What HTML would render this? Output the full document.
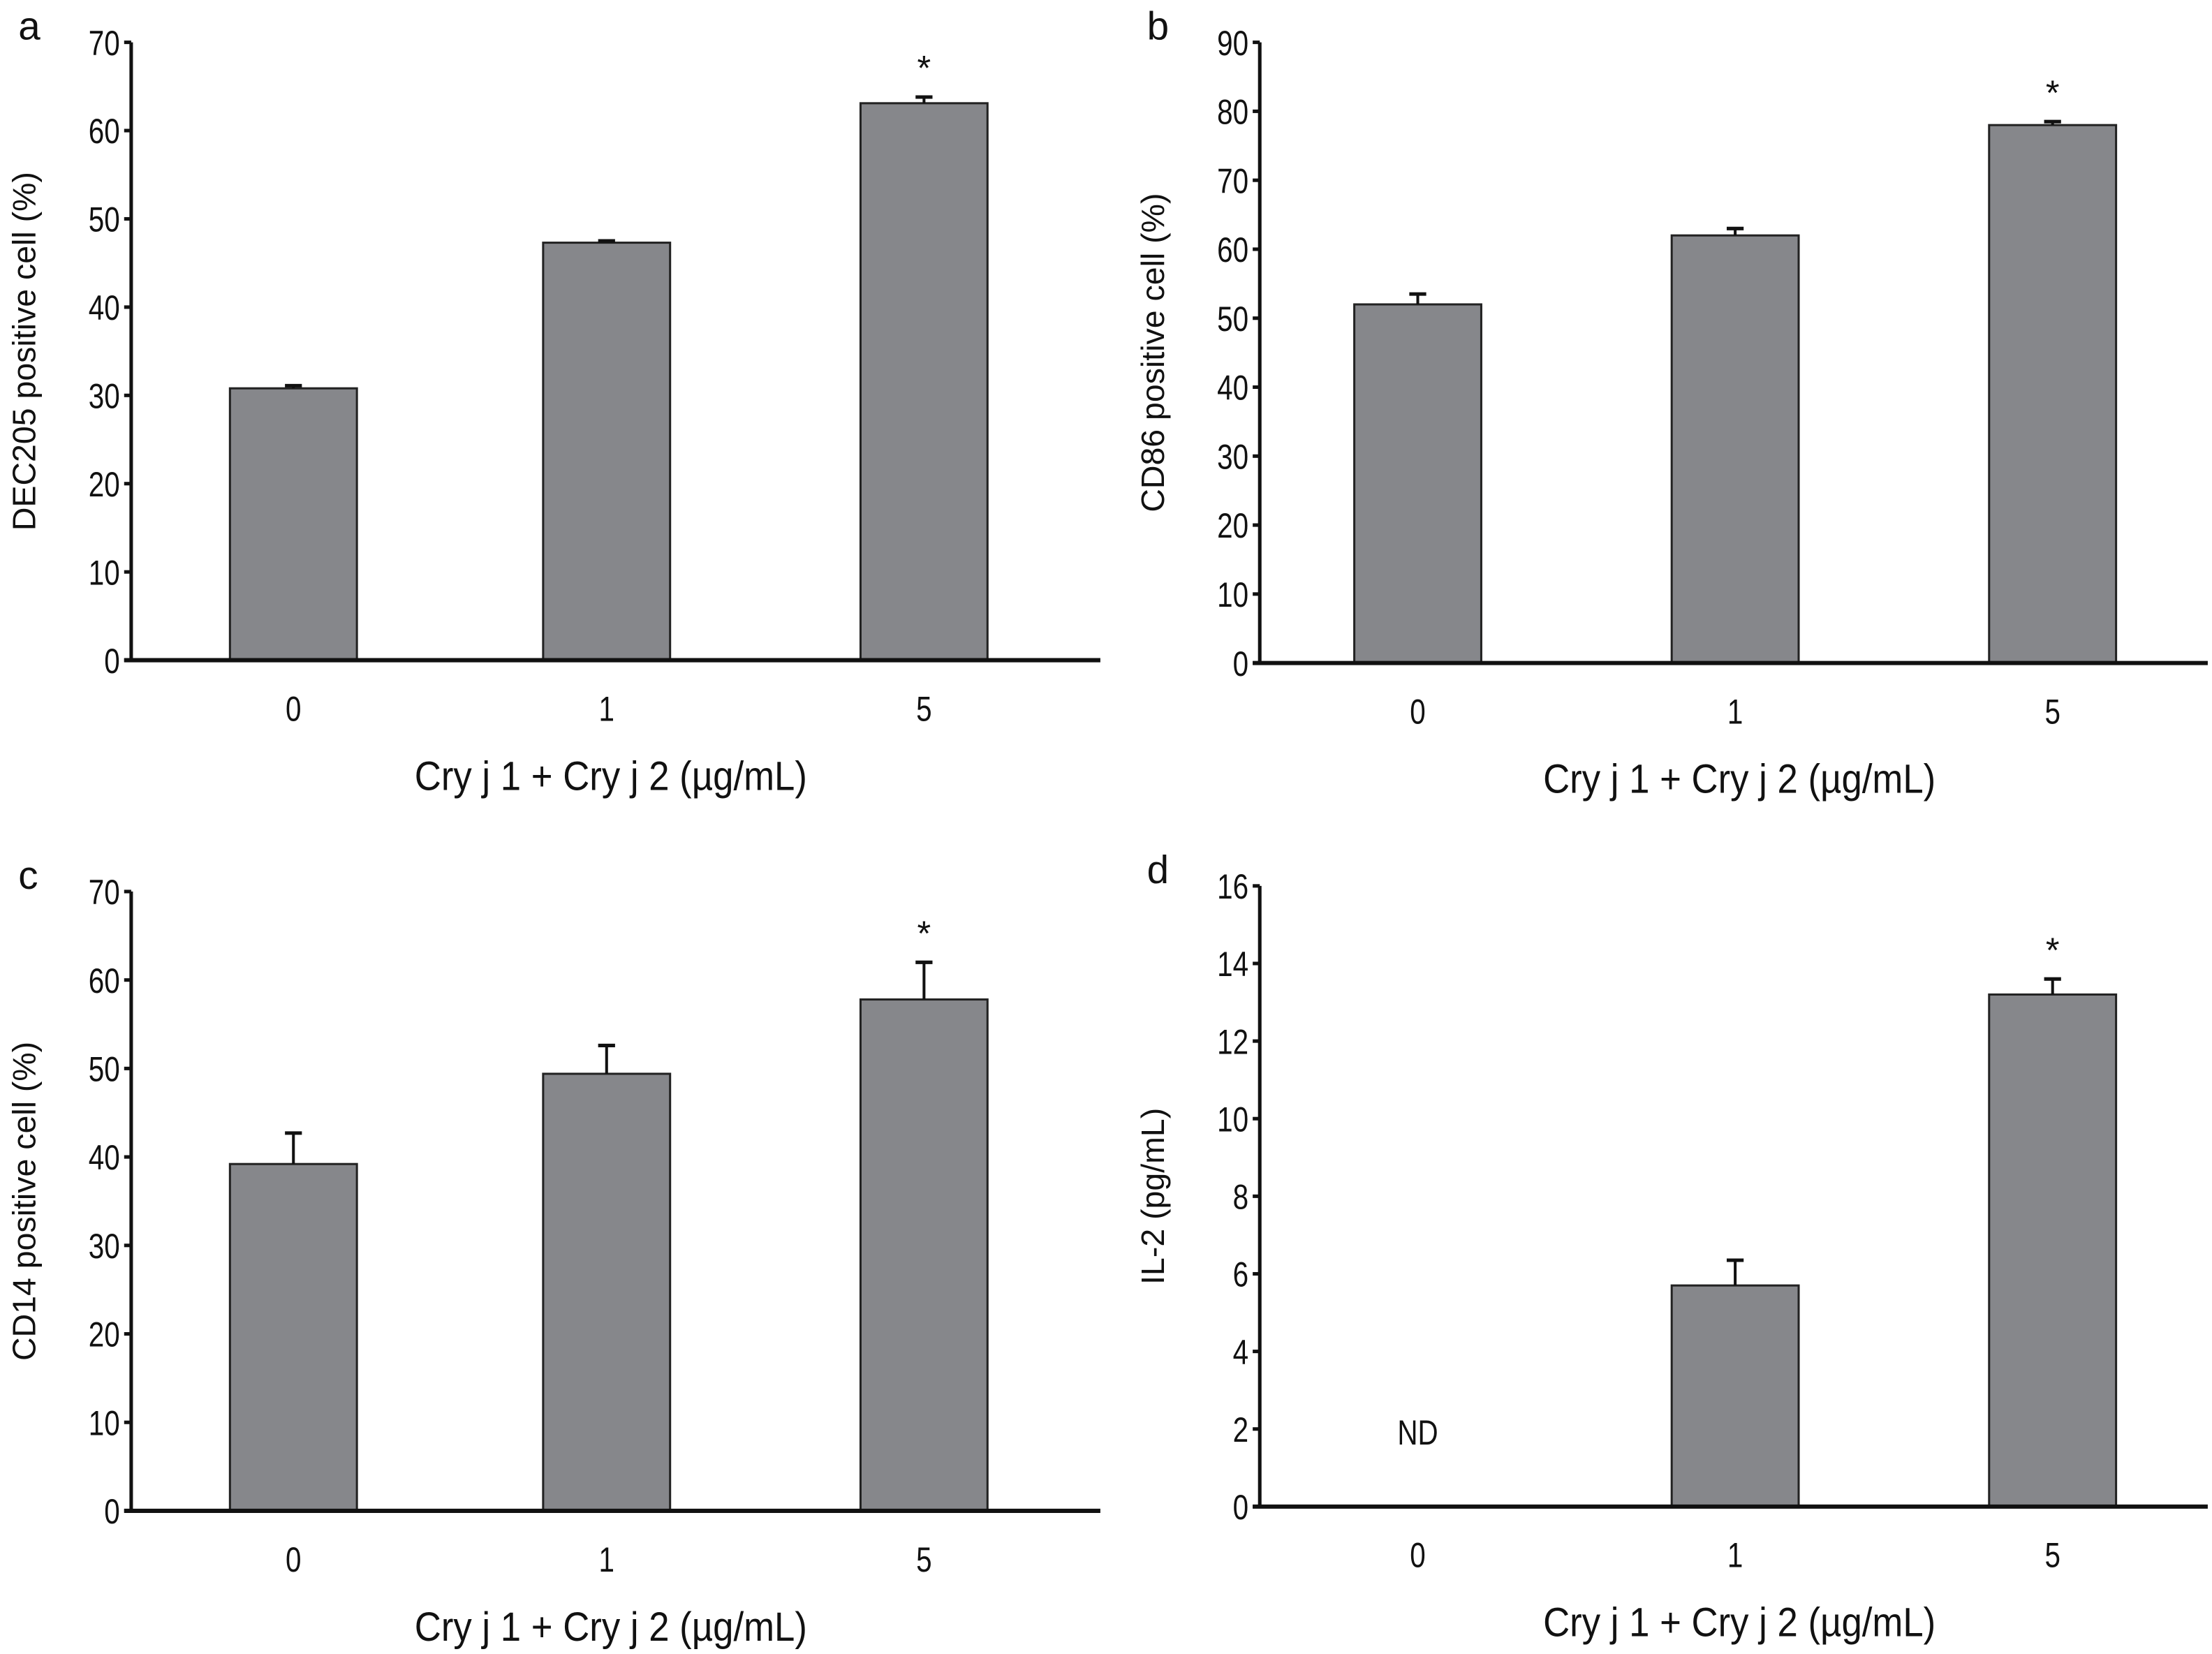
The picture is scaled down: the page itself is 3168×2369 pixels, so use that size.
<!DOCTYPE html>
<html><head><meta charset="utf-8"><style>
html,body{margin:0;padding:0;background:#fff}
svg{display:block}
text{font-family:"Liberation Sans",sans-serif;fill:#111}
</style></head><body>
<svg id="fig" width="3168" height="2369" viewBox="0 0 1568 1172.5" preserveAspectRatio="none" xmlns="http://www.w3.org/2000/svg"></svg>
<script>
const categories = ["0","1","5"];
const valuesA = [30.8, 47.3, 63.1];
const errA = [0.3, 0.2, 0.7];
const valuesB = [52, 62, 78];
const errB = [1.5, 1.0, 0.5];
const valuesC = [39.2, 49.4, 57.8];
const errC = [3.5, 3.2, 4.2];
const valuesD = [0, 5.7, 13.2];
const errD = [0, 0.65, 0.4];
const ticksA = [0,10,20,30,40,50,60,70];
const ticksB = [0,10,20,30,40,50,60,70,80,90];
const ticksC = [0,10,20,30,40,50,60,70];
const ticksD = [0,2,4,6,8,10,12,14,16];
const sigA = [false,false,true], sigB=[false,false,true], sigC=[false,false,true], sigD=[false,false,true];

const NS="http://www.w3.org/2000/svg";
const svg=document.getElementById('fig');
function mk(tag,attrs,parent){const e=document.createElementNS(NS,tag);for(const k in attrs)e.setAttribute(k,attrs[k]);(parent||svg).appendChild(e);return e;}
function cond(x,s){return `translate(${x},0) scale(${s||0.8},1) translate(${-x},0)`;}

function panel(o){
  const g=mk('g',{});
  
  
  const ymax=o.ticks[o.ticks.length-1];
  const y=v=>o.y0-(v/ymax)*(o.y0-o.ytop);
  const xc=i=>o.xc[i];
  const L=mk('text',{x:o.ax-80,y:o.ytop-2,'font-size':28},g);L.textContent=o.letter;
  
  
  const ya=mk('line',{x1:o.ax,y1:o.ytop,x2:o.ax,y2:o.y0,stroke:'#111','stroke-width':2.5},g);
  
  
  o.ticks.forEach(t=>{
    mk('line',{x1:o.ax-5,y1:y(t),x2:o.ax,y2:y(t),stroke:'#111','stroke-width':2.5},g);
    const tx=mk('text',{x:o.ax-8,y:y(t)+9,'font-size':25,'text-anchor':'end',transform:cond(o.ax-8)},g);
    tx.textContent=t;
    
    
  });
  o.values.forEach((v,i)=>{
    if(v>0){
      const b=mk('rect',{x:xc(i)-45,y:y(v),width:90,height:o.y0-y(v),fill:'#86878b',stroke:'#222','stroke-width':1.5},g);
      
      
      const ey=y(v+o.err[i]);
      mk('line',{x1:xc(i),y1:y(v),x2:xc(i),y2:ey,stroke:'#111','stroke-width':2},g);
      const cap=mk('line',{x1:xc(i)-6,y1:ey,x2:xc(i)+6,y2:ey,stroke:'#111','stroke-width':2.5},g);
      
      
    }
    if(o.sig[i]){
      const s=mk('text',{x:xc(i),y:y(v+o.err[i])-12,'font-size':25,'text-anchor':'middle'},g);s.textContent='*';
      
      
    }
    const xl=mk('text',{x:xc(i),y:o.y0+43,'font-size':25,'text-anchor':'middle',transform:cond(xc(i))},g);xl.textContent=categories[i];
    
    
  });
  if(o.nd){const n=mk('text',{x:xc(0),y:y(1.6),'font-size':25,'text-anchor':'middle',transform:cond(xc(0))},g);n.textContent='ND';
    
    }
  const xa=mk('line',{x1:o.ax-5,y1:o.y0,x2:o.xend,y2:o.y0,stroke:'#111','stroke-width':3},g);
  
  
  const xt=mk('text',{x:o.xc[1]+3,y:o.y0+92,'font-size':29,'text-anchor':'middle',transform:cond(o.xc[1]+3,0.9)},g);xt.textContent='Cry j 1 + Cry j 2 (\u00b5g/mL)';
  
  
  const cy=(o.ytop+o.y0)/2;
  const yt=mk('text',{x:o.ax-68,y:cy,'font-size':23,'text-anchor':'middle',transform:`rotate(-90 ${o.ax-68} ${cy})`},g);yt.textContent=o.ytitle;
  
  
}
panel({letter:'a',ax:93,ytop:30,y0:468,xend:780,xc:[208,430,655],ticks:ticksA,values:valuesA,err:errA,sig:sigA,ytitle:'DEC205 positive cell (%)'});
panel({letter:'b',ax:893,ytop:30,y0:470,xend:1565,xc:[1005,1230,1455],ticks:ticksB,values:valuesB,err:errB,sig:sigB,ytitle:'CD86 positive cell (%)'});
panel({letter:'c',ax:93,ytop:632,y0:1071,xend:780,xc:[208,430,655],ticks:ticksC,values:valuesC,err:errC,sig:sigC,ytitle:'CD14 positive cell (%)'});
panel({letter:'d',ax:893,ytop:628,y0:1068,xend:1565,xc:[1005,1230,1455],ticks:ticksD,values:valuesD,err:errD,sig:sigD,ytitle:'IL-2 (pg/mL)',nd:true});
</script>
</body></html>
